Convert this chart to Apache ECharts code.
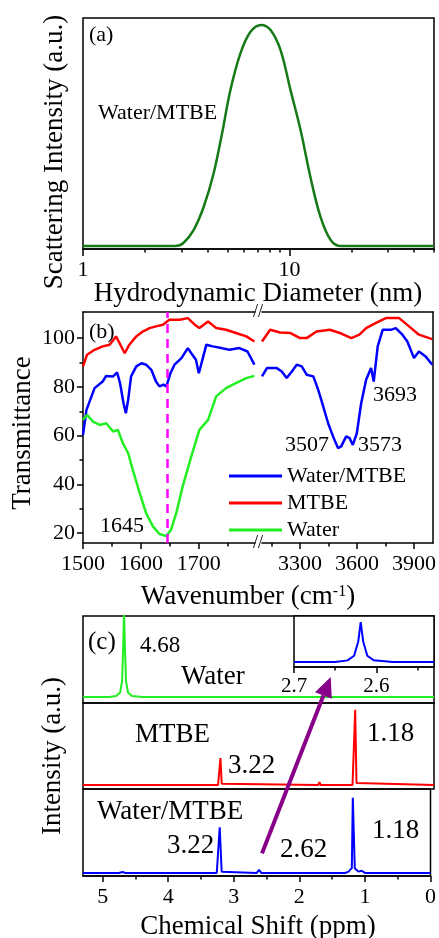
<!DOCTYPE html>
<html>
<head>
<meta charset="utf-8">
<script src="https://cdn.jsdelivr.net/npm/echarts@6/dist/echarts.min.js"></script>
<style>
  html, body { margin: 0; background: #fff; }
  #chart { width: 439px; height: 938px; }
</style>
</head>
<body>
<div id="chart"></div>
<script>
// ---- (a) DLS size distribution: [diameter nm, intensity]
const dlsPoints = [[1,0.013],[2,0.013],[2.8,0.013],[3.06,0.026],[3.43,0.082],[3.84,0.183],[4.29,0.328],[4.71,0.5],[5.17,0.688],[5.78,0.847],[6.47,0.94],[7.29,0.97],[8.09,0.948],[9.04,0.861],[10.1,0.688],[11.3,0.515],[12.6,0.313],[14.1,0.14],[15.8,0.039],[17.7,0.013],[30,0.013],[50,0.013]]

// ---- (b) FTIR, low wavenumber segment [cm-1, %T]
const irLowBlue = [[1500,60.3],[1506,70.6],[1520,79.5],[1534,82.2],[1540,84.5],[1552,84.3],[1559,85.9],[1564,81.5],[1570,73.3],[1574,69.2],[1578,74.7],[1583,84.3],[1592,88.4],[1601,89.7],[1609,89.1],[1618,87],[1626,82.2],[1632,80.2],[1639,80.9],[1644,80.2],[1651,85.6],[1658,89.1],[1670,91.8],[1681,95.9],[1687,93.8],[1695,91.1],[1700,85.6],[1704,89.1],[1713,97.3],[1724,96.6],[1739,95.9],[1753,95.2],[1770,95.9],[1784,94.5],[1796,89.1]]
const irLowRed = [[1500,88.4],[1507,93.2],[1520,95.2],[1534,96.6],[1546,97.3],[1557,100.7],[1563,98],[1572,93.8],[1580,97.3],[1592,100.7],[1603,102.7],[1615,104.1],[1626,104.8],[1638,105.5],[1649,107.5],[1667,107.5],[1681,108.2],[1693,105.5],[1701,104.1],[1716,106.8],[1730,104.1],[1747,103.4],[1764,102.1],[1782,100.7],[1796,98.6]]
const irLowGreen = [[1500,66.5],[1507,68.5],[1517,65.8],[1529,64.4],[1540,65.1],[1552,61.7],[1560,62.4],[1569,56.9],[1578,52.8],[1586,46],[1598,36.4],[1609,28.2],[1621,22.7],[1632,19.7],[1644,18.9],[1652,21.4],[1661,28.2],[1672,39.1],[1687,51.5],[1701,62.4],[1716,66.5],[1730,76.1],[1747,79.5],[1764,81.5],[1782,83.6],[1796,84.5]]
// ---- (b) FTIR, high wavenumber segment
const irHighBlue = [[3100,84.3],[3126,87.7],[3178,87.7],[3204,86.3],[3230,83.6],[3257,86.3],[3283,89.1],[3309,88.4],[3335,85],[3370,84.3],[3396,78.8],[3422,72],[3448,65.1],[3474,59.7],[3500,54.9],[3517,55.6],[3543,59.7],[3561,59],[3578,56.2],[3599,61],[3622,73.3],[3648,82.9],[3674,87.7],[3688,82.2],[3696,81.5],[3709,96.6],[3735,103.4],[3778,103.4],[3804,104.1],[3839,101.4],[3865,98.6],[3900,91.8],[3926,94.5],[3961,92.5],[3996,89.1]]
const irHighRed = [[3100,98.6],[3143,103.4],[3196,102.3],[3248,102.1],[3300,100],[3335,100],[3387,102.7],[3457,103.4],[3509,102.1],[3570,100],[3613,101.4],[3648,104.1],[3700,106.2],[3752,108.2],[3822,108.2],[3874,104.8],[3926,101.4],[3996,99.6]]
const irMarker = 1645

// ---- (c) 1H NMR [ppm, intensity]
const nmrWater = [[5.3,0.07],[4.9,0.07],[4.8,0.08],[4.74,0.12],[4.71,0.25],[4.695,0.6],[4.68,1.05],[4.665,0.6],[4.65,0.25],[4.62,0.12],[4.56,0.08],[4.4,0.07],[0,0.07]]
const nmrMtbe = [[5.3,0.047],[3.26,0.047],[3.235,0.06],[3.225,0.36],[3.215,0.36],[3.205,0.06],[3.18,0.047],[1.75,0.047],[1.73,0.08],[1.71,0.047],[1.23,0.047],[1.2,0.07],[1.19,0.92],[1.18,0.92],[1.17,0.07],[1.14,0.047],[0,0.047]]
const nmrMix = [[5.3,0.035],[4.75,0.035],[4.7,0.045],[4.65,0.035],[3.26,0.035],[3.23,0.05],[3.215,0.56],[3.2,0.56],[3.185,0.05],[3.16,0.035],[2.65,0.035],[2.625,0.05],[2.615,0.07],[2.605,0.05],[2.58,0.035],[1.3,0.035],[1.25,0.05],[1.2,0.09],[1.185,0.9],[1.17,0.9],[1.155,0.09],[1.1,0.05],[1.05,0.06],[1.0,0.035],[0,0.035]]
const nmrInset = [[2.7,0.1],[2.65,0.1],[2.635,0.13],[2.627,0.22],[2.622,0.5],[2.619,0.88],[2.616,0.5],[2.611,0.22],[2.603,0.13],[2.58,0.1],[2.53,0.1]]
const arrowFrom = [2.57, 0.26]   // in bottom NMR panel
const arrowTo = [1.56, 0.30]     // in top NMR panel

const serif = '"Liberation Serif", "Times New Roman", serif'
const cBlue = '#0000ff', cRed = '#ff0000', cGreen = '#22ee22'

const chart = echarts.init(document.getElementById('chart'))

const frame = { show: true, borderColor: '#000', borderWidth: 1.5, backgroundColor: 'transparent' }
const line = { lineStyle: { color: '#000', width: 1.5 } }
const plain = v => String(v)

// axis helpers
const majorAx = (grid, type, min, max, vals, extra) => Object.assign({
  gridIndex: grid, type, min, max, position: 'bottom',
  axisLine: { show: true, onZero: false, ...line },
  axisTick: { show: true, inside: false, length: 6, customValues: vals, ...line },
  axisLabel: { show: true, customValues: vals, fontSize: 22, color: '#000', fontFamily: serif, margin: 10, formatter: plain },
  splitLine: { show: false }
}, extra || {})
const minorAx = (grid, type, min, max, vals, extra) => Object.assign({
  gridIndex: grid, type, min, max, position: 'bottom',
  axisLine: { show: false, onZero: false },
  axisTick: { show: true, inside: false, length: 3.5, customValues: vals, ...line },
  axisLabel: { show: false },
  splitLine: { show: false }
}, extra || {})
const lineAx = (grid, type, min, max, pos, extra) => Object.assign({
  gridIndex: grid, type, min, max, position: pos,
  axisLine: { show: true, onZero: false, ...line },
  axisTick: { show: false }, axisLabel: { show: false }, splitLine: { show: false }
}, extra || {})
const hiddenAx = (grid, min, max, extra) => Object.assign({ gridIndex: grid, type: 'value', min, max, show: false }, extra || {})

const option = {
  animation: false,
  textStyle: { fontFamily: serif, color: '#000' },
  grid: [
    { left: 83, top: 18, width: 351, height: 231, ...frame },
    { left: 83, top: 312, width: 172, height: 231 },
    { left: 262, top: 312, width: 172, height: 231 },
    { left: 83, top: 616, width: 351, height: 87, ...frame },
    { left: 83, top: 703, width: 351, height: 86, ...frame },
    { left: 83, top: 789, width: 351, height: 87, ...frame },
    { left: 294, top: 616, width: 140, height: 51, ...frame, backgroundColor: '#fff' }
  ],
  xAxis: [
    majorAx(0, 'log', 1, 50, [1, 10], { logBase: 10, axisTick: { show: true, length: 7, customValues: [1, 10], ...line } }),
    minorAx(0, 'log', 1, 50, [2, 3, 4, 5, 6, 7, 8, 9, 20, 30, 40, 50], { logBase: 10 }),
    majorAx(1, 'value', 1500, 1797, [1500, 1600, 1700]),
    minorAx(1, 'value', 1500, 1797, [1550, 1650, 1750]),
    lineAx(1, 'value', 1500, 1797, 'top'),
    majorAx(2, 'value', 3100, 4000, [3300, 3600, 3900]),
    minorAx(2, 'value', 3100, 4000, [3150, 3450, 3750]),
    lineAx(2, 'value', 3100, 4000, 'top'),
    hiddenAx(3, 0, 5.3, { inverse: true }),
    hiddenAx(4, 0, 5.3, { inverse: true }),
    majorAx(5, 'value', 0, 5.3, [0, 1, 2, 3, 4, 5], { inverse: true }),
    minorAx(5, 'value', 0, 5.3, [0.5, 1.5, 2.5, 3.5, 4.5], { inverse: true }),
    majorAx(6, 'value', 2.53, 2.7, [2.6, 2.7], { inverse: true, axisLabel: { show: true, customValues: [2.6, 2.7], fontSize: 21, color: '#000', fontFamily: serif, margin: 9, formatter: plain } }),
    minorAx(6, 'value', 2.53, 2.7, [2.55, 2.65], { inverse: true })
  ],
  yAxis: [
    hiddenAx(0, 0, 1),
    majorAx(1, 'value', 16, 110.7, [20, 40, 60, 80, 100], { position: 'left', axisLabel: { show: true, customValues: [20, 40, 60, 80, 100], fontSize: 22, color: '#000', fontFamily: serif, margin: 8, formatter: plain } }),
    minorAx(1, 'value', 16, 110.7, [30, 50, 70, 90], { position: 'left' }),
    lineAx(2, 'value', 16, 110.7, 'right'),
    hiddenAx(3, 0, 1),
    hiddenAx(4, 0, 1),
    hiddenAx(5, 0, 1),
    hiddenAx(6, 0, 1)
  ],
  legend: {
    orient: 'vertical', left: 224, top: 460, icon: 'rect', itemWidth: 53, itemHeight: 3, itemGap: 5,
    textStyle: { fontSize: 22, color: '#000', fontFamily: serif },
    data: ['Water/MTBE', 'MTBE', 'Water']
  },
  series: [
    { type: 'line', xAxisIndex: 0, yAxisIndex: 0, data: dlsPoints, smooth: 0.35, symbol: 'none', lineStyle: { color: '#167a16', width: 2.5 } },

    { name: 'Water/MTBE', type: 'line', xAxisIndex: 2, yAxisIndex: 1, data: irLowBlue, symbol: 'none', color: cBlue, lineStyle: { color: cBlue, width: 2.5 } },
    { name: 'MTBE', type: 'line', xAxisIndex: 2, yAxisIndex: 1, data: irLowRed, symbol: 'none', color: cRed, lineStyle: { color: cRed, width: 2.5 } },
    { name: 'Water', type: 'line', xAxisIndex: 2, yAxisIndex: 1, data: irLowGreen, symbol: 'none', color: cGreen, lineStyle: { color: cGreen, width: 2.5 },
      markLine: { silent: true, symbol: 'none', label: { show: false }, lineStyle: { color: '#ff00ff', width: 2.5, type: [9, 6] }, data: [{ xAxis: irMarker }] } },
    { name: 'Water/MTBE', type: 'line', xAxisIndex: 5, yAxisIndex: 3, data: irHighBlue, symbol: 'none', color: cBlue, lineStyle: { color: cBlue, width: 2.5 } },
    { name: 'MTBE', type: 'line', xAxisIndex: 5, yAxisIndex: 3, data: irHighRed, symbol: 'none', color: cRed, lineStyle: { color: cRed, width: 2.5 } },

    { type: 'line', xAxisIndex: 8, yAxisIndex: 4, data: nmrWater, symbol: 'none', lineStyle: { color: cGreen, width: 2 } },
    { type: 'line', xAxisIndex: 9, yAxisIndex: 5, data: nmrMtbe, symbol: 'none', lineStyle: { color: cRed, width: 2 } },
    { type: 'line', xAxisIndex: 10, yAxisIndex: 6, data: nmrMix, symbol: 'none', lineStyle: { color: cBlue, width: 2 } },
    { type: 'line', xAxisIndex: 12, yAxisIndex: 7, data: nmrInset, symbol: 'none', lineStyle: { color: cBlue, width: 2 } }
  ]
}
chart.setOption(option)

// text annotations
const txt = (text, x, y, size, align, rot) => ({
  type: 'text', x, y, rotation: rot || 0, z: 100,
  style: { text, font: size + 'px ' + serif, fill: '#000', align: align || 'left', textAlign: align || 'left', verticalAlign: 'middle', textVerticalAlign: 'middle' }
})
const texts = [
  txt('(a)', 89, 35, 22),
  txt('Water/MTBE', 98, 113, 22),
  txt('Hydrodynamic Diameter (nm)', 258, 294, 27, 'center'),
  txt('Scattering Intensity (a.u.)', 55, 152, 27, 'center', Math.PI / 2),
  txt('(b)', 89, 332, 22),
  txt('1645', 100, 526, 22),
  txt('3507', 285, 445, 22),
  txt('3573', 358, 445, 22),
  txt('3693', 373, 395, 22),
  txt('Transmittance', 23, 433, 27, 'center', Math.PI / 2),
  txt('//', 258, 312, 18, 'center'),
  txt('//', 258, 543, 18, 'center'),
  { type: 'text', x: 248, y: 597, z: 100, style: { text: 'Wavenumber (cm{sup|-1})', font: '27px ' + serif, fill: '#000', align: 'center', textAlign: 'center', verticalAlign: 'middle', textVerticalAlign: 'middle',
      rich: { sup: { fontSize: 16, fontFamily: serif, verticalAlign: 'top', padding: [0, 0, 10, 0] } } } },
  txt('(c)', 88, 642, 25),
  txt('4.68', 140, 646, 23),
  txt('Water', 181, 677, 27),
  txt('MTBE', 135, 735, 27),
  txt('3.22', 228, 766, 27),
  txt('1.18', 367, 734, 27),
  txt('Water/MTBE', 97, 812, 27),
  txt('3.22', 167, 846, 27),
  txt('2.62', 280, 850, 27),
  txt('1.18', 372, 831, 27),
  txt('Intensity (a.u.)', 53, 756, 27, 'center', Math.PI / 2),
  txt('Chemical Shift (ppm)', 258, 927, 27, 'center')
]

// arrow from the 2.62 peak to the inset
const p0 = chart.convertToPixel({ xAxisIndex: 10, yAxisIndex: 6 }, arrowFrom)
const p1 = chart.convertToPixel({ xAxisIndex: 8, yAxisIndex: 4 }, arrowTo)
const dx = p1[0] - p0[0], dy = p1[1] - p0[1]
const len = Math.sqrt(dx * dx + dy * dy)
const ux = dx / len, uy = dy / len
const bx = p1[0] - ux * 20, by = p1[1] - uy * 20
const arrow = [
  { type: 'line', z: 90, shape: { x1: p0[0], y1: p0[1], x2: bx, y2: by }, style: { stroke: '#870087', lineWidth: 4 } },
  { type: 'polygon', z: 90, shape: { points: [p1, [bx - uy * 9, by + ux * 9], [bx + uy * 9, by - ux * 9]] }, style: { fill: '#870087' } }
]
chart.setOption({ graphic: texts.concat(arrow) })
</script>
</body>
</html>
